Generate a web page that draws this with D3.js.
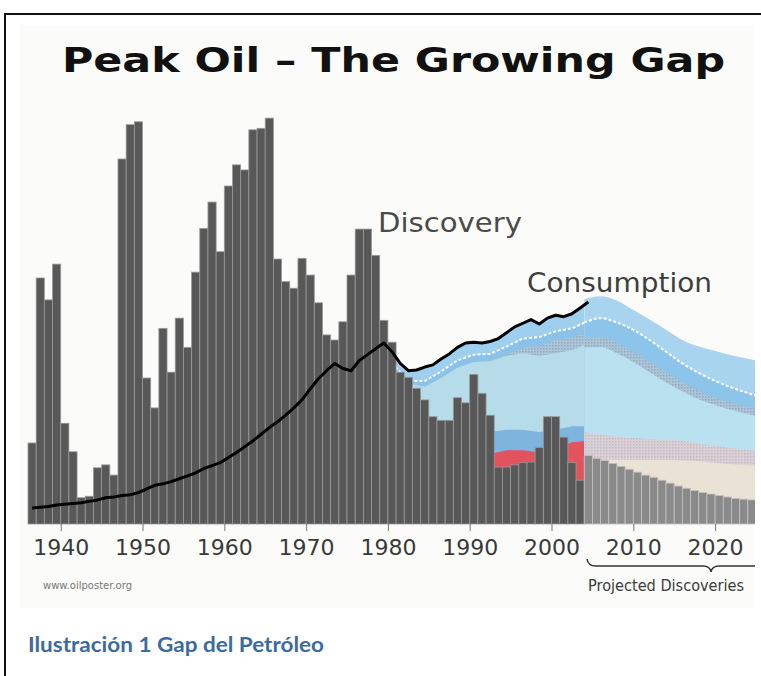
<!DOCTYPE html>
<html>
<head>
<meta charset="utf-8">
<script src="https://cdn.jsdelivr.net/npm/d3@7"></script>
<style>
	body{margin:0;background:#fff;}
</style>
</head>
<body>
<svg id="chart" width="761" height="676"></svg>
<script>
// discovery per year (Gb), 1936-2003 history, 2004-2024 projection
const histStart = 1936;
const histDiscovery = [
	11.1, 33.7, 30.7, 35.6, 13.8, 9.9, 3.6, 3.8, 7.7, 8.1,
	6.7, 50.0, 54.7, 55.1, 20.0, 15.9, 26.8, 20.8, 28.2, 24.2,
	34.5, 40.5, 44.1, 37.3, 46.3, 49.2, 48.5, 54.0, 54.2, 55.6,
	36.3, 33.2, 32.3, 36.4, 34.1, 30.3, 25.9, 25.2, 27.7, 34.1,
	40.4, 40.4, 36.8, 27.9, 24.9, 20.8, 20.1, 18.6, 17.0, 14.7,
	14.2, 14.2, 17.3, 16.6, 20.5, 17.9, 14.9, 7.8, 7.8, 8.1,
	8.4, 8.5, 10.5, 14.7, 14.7, 11.9, 8.4, 6.0
];
const projStart = 2004;
const projDiscovery = [
	9.4, 9.0, 8.7, 8.3, 7.9, 7.5, 7.1, 6.7, 6.4, 6.0,
	5.6, 5.2, 4.9, 4.6, 4.3, 4.1, 3.9, 3.7, 3.5, 3.4, 3.3
];
// consumption per year (Gb), 1936-2004
const consumption = [
	2.2, 2.3, 2.4, 2.6, 2.7, 2.8, 2.9, 3.1, 3.3, 3.6,
	3.7, 3.9, 4.0, 4.3, 4.8, 5.3, 5.5, 5.8, 6.2, 6.6,
	7.0, 7.6, 8.0, 8.4, 9.1, 9.8, 10.6, 11.4, 12.3, 13.2,
	14.0, 14.9, 15.9, 17.0, 18.5, 19.9, 21.0, 22.0, 21.3, 21.0,
	22.4, 23.2, 24.0, 24.8, 23.6, 22.0, 21.0, 21.1, 21.5, 21.8,
	22.6, 23.3, 24.2, 24.8, 24.9, 24.8, 25.0, 25.4, 26.2, 27.0,
	27.5, 28.0, 27.4, 28.2, 28.6, 28.4, 28.8, 29.6, 30.4
];

// gap layers before 2004 (top of each band)
const histYears = [1980, 1981, 1982, 1984, 1986, 1988, 1990, 1992, 1994, 1996, 1998, 2000, 2002, 2004];
const histWhite = [22.0, 20.8, 19.6, 19.6, 20.9, 22.4, 23.2, 23.3, 24.3, 25.4, 25.6, 26.4, 26.8, 27.8];
const histGray  = [21.5, 20.5, 19.2, 18.8, 20.0, 21.4, 22.2, 22.3, 23.2, 24.2, 24.4, 25.2, 25.6, 26.4];
const histLight = [21.5, 20.5, 19.2, 18.8, 20.0, 21.4, 22.2, 22.3, 23.0, 23.4, 23.0, 23.4, 23.8, 24.8];
const histBlue  = [12.0, 12.0, 12.0, 12.0, 12.0, 12.0, 12.0, 12.6, 12.9, 12.9, 12.6, 12.9, 13.4, 13.4];
const histRed   = [9.0, 9.0, 9.0, 9.0, 9.0, 9.0, 9.0, 9.6, 10.1, 10.1, 9.8, 10.2, 11.2, 11.4];

// projected layers (top of each band)
const projYears = [2004, 2006, 2008, 2010, 2012, 2014, 2016, 2018, 2020, 2022, 2025];
const projTop   = [30.8, 31.2, 30.6, 29.3, 28.0, 26.6, 25.2, 24.3, 23.7, 23.1, 22.4];
const projWhite = [27.6, 28.2, 27.6, 26.6, 25.2, 23.6, 22.0, 20.7, 19.6, 18.7, 17.6];
const projGray  = [25.6, 25.6, 24.8, 23.6, 22.2, 20.8, 19.4, 18.2, 17.3, 16.6, 15.9];
const projLight = [24.2, 24.2, 23.4, 22.2, 20.8, 19.4, 18.2, 17.1, 16.3, 15.6, 14.8];
const projPink  = [12.6, 12.2, 12.0, 11.8, 11.6, 11.5, 11.4, 11.0, 10.7, 10.4, 10.0];
const projBeige = [8.8, 8.8, 8.8, 8.8, 8.8, 8.8, 8.7, 8.6, 8.4, 8.2, 8.0];

const tickYears = [1940, 1950, 1960, 1970, 1980, 1990, 2000, 2010, 2020];

const svg = d3.select('#chart');
const x = d3.scaleLinear().domain([1936, 2025]).range([28, 756]);
const y = d3.scaleLinear().domain([0, 60]).range([524, 86]);

const font = '"DejaVu Sans", sans-serif';

// frame
svg.append('path')
	.attr('d', 'M5,676V14H761')
	.attr('fill', 'none')
	.attr('stroke', '#111')
	.attr('stroke-width', 2);

svg.append('rect')
	.attr('x', 20).attr('y', 25)
	.attr('width', 735).attr('height', 583)
	.attr('fill', '#fbfcf9');

let defs = svg.append('defs');
defs.append('clipPath').attr('id', 'plotClip')
	.append('rect').attr('x', 20).attr('y', 25).attr('width', 735).attr('height', 583);
defs.append('clipPath').attr('id', 'histClip')
	.append('rect').attr('x', x(1980)).attr('y', 25).attr('width', x(2004) - x(1980)).attr('height', 500);
defs.append('clipPath').attr('id', 'projClip')
	.append('rect').attr('x', x(2004)).attr('y', 25).attr('width', 755 - x(2004)).attr('height', 500);

function dotPattern(id, base, dot){
	let p = defs.append('pattern').attr('id', id)
		.attr('width', 3).attr('height', 3).attr('patternUnits', 'userSpaceOnUse');
	p.append('rect').attr('width', 3).attr('height', 3).attr('fill', base);
	p.append('rect').attr('width', 1.5).attr('height', 1.5).attr('fill', dot);
}
dotPattern('dotGray', '#a9c6dc', '#9aa6b2');
dotPattern('dotPink', '#d8d2d8', '#c8b8bd');

function pts(years, vals){
	return years.map((yr, i) => ({year: yr, v: vals[i]}));
}

let plot = svg.append('g').attr('clip-path', 'url(#plotClip)');

// history gap
let histArea = d3.area()
	.x(d => x(d.year + 0.5)).y0(y(0)).y1(d => y(d.v))
	.curve(d3.curveLinear);
let hg = plot.append('g').attr('clip-path', 'url(#histClip)');
let consData = consumption.map((v, i) => ({year: histStart + i, v: v})).filter(d => d.year >= 1980);
hg.append('path').attr('d', histArea(consData)).attr('fill', '#9fcfee');
hg.append('path').attr('d', histArea(pts(histYears, histWhite))).attr('fill', '#8ac2e8');
hg.append('path').attr('d', histArea(pts(histYears, histGray))).attr('fill', 'url(#dotGray)');
hg.append('path').attr('d', histArea(pts(histYears, histLight))).attr('fill', '#b6dce9');
hg.append('path').attr('d', histArea(pts(histYears, histBlue))).attr('fill', '#7db5df');
hg.append('path').attr('d', histArea(pts(histYears, histRed))).attr('fill', '#e2535d');
hg.append('path')
	.attr('d', d3.line().x(d => x(d.year + 0.5)).y(d => y(d.v))(pts(histYears, histWhite)))
	.attr('fill', 'none').attr('stroke', '#fff').attr('stroke-width', 2).attr('stroke-dasharray', '3,2');

// projected gap
let projArea = d3.area()
	.x(d => x(d.year)).y0(y(0)).y1(d => y(d.v))
	.curve(d3.curveMonotoneX);
let pg = plot.append('g').attr('clip-path', 'url(#projClip)');
pg.append('path').attr('d', projArea(pts(projYears, projTop))).attr('fill', '#a9d4f0');
pg.append('path').attr('d', projArea(pts(projYears, projWhite))).attr('fill', '#8dc4e9');
pg.append('path').attr('d', projArea(pts(projYears, projGray))).attr('fill', 'url(#dotGray)');
pg.append('path').attr('d', projArea(pts(projYears, projLight))).attr('fill', '#b9e1f0');
pg.append('path').attr('d', projArea(pts(projYears, projPink))).attr('fill', 'url(#dotPink)');
pg.append('path').attr('d', projArea(pts(projYears, projBeige))).attr('fill', '#ebe2d6');
pg.append('path')
	.attr('d', d3.line().x(d => x(d.year)).y(d => y(d.v)).curve(d3.curveMonotoneX)(pts(projYears, projWhite)))
	.attr('fill', 'none').attr('stroke', '#fff').attr('stroke-width', 2).attr('stroke-dasharray', '3,2');

// discovery bars
plot.append('g').selectAll('rect')
	.data(histDiscovery.map((v, i) => ({year: histStart + i, v: v})))
	.join('rect')
	.attr('x', d => x(d.year))
	.attr('y', d => y(d.v))
	.attr('width', d => x(d.year + 1) - x(d.year))
	.attr('height', d => y(0) - y(d.v))
	.attr('fill', '#585858')
	.attr('stroke', '#9a9a9a')
	.attr('stroke-width', 0.8);

plot.append('g').selectAll('rect')
	.data(projDiscovery.map((v, i) => ({year: projStart + i, v: v})))
	.join('rect')
	.attr('x', d => x(d.year))
	.attr('y', d => y(d.v))
	.attr('width', d => x(d.year + 1) - x(d.year))
	.attr('height', d => y(0) - y(d.v))
	.attr('fill', '#8a8a8a')
	.attr('stroke', '#c4c4c4')
	.attr('stroke-width', 0.8);

// consumption line
plot.append('path')
	.attr('d', d3.line().x(d => x(d.year + 0.5)).y(d => y(d.v))
		(consumption.map((v, i) => ({year: histStart + i, v: v}))))
	.attr('fill', 'none')
	.attr('stroke', '#000')
	.attr('stroke-width', 3)
	.attr('stroke-linejoin', 'round');

// x axis
let axis = svg.append('g')
	.attr('transform', `translate(0,${y(0)})`)
	.call(d3.axisBottom(x).tickValues(tickYears).tickFormat(d3.format('d')).tickSize(7).tickPadding(8));
axis.select('.domain').remove();
axis.selectAll('line').attr('stroke', '#777');
axis.selectAll('text')
	.attr('fill', '#3a3a3a')
	.attr('font-family', font)
	.attr('font-size', 22);

// title and labels
svg.append('text')
	.attr('x', 62).attr('y', 72)
	.attr('font-family', font).attr('font-weight', 'bold')
	.attr('font-size', 34)
	.attr('textLength', 663).attr('lengthAdjust', 'spacingAndGlyphs')
	.attr('fill', '#111')
	.text('Peak Oil – The Growing Gap');

svg.append('text')
	.attr('x', 378).attr('y', 232)
	.attr('font-family', font).attr('font-size', 27)
	.attr('textLength', 144).attr('lengthAdjust', 'spacingAndGlyphs')
	.attr('fill', '#4a4a4a')
	.text('Discovery');

svg.append('text')
	.attr('x', 527).attr('y', 292)
	.attr('font-family', font).attr('font-size', 27)
	.attr('textLength', 185).attr('lengthAdjust', 'spacingAndGlyphs')
	.attr('fill', '#3e3e3e')
	.text('Consumption');

// projected bracket
let brace = d3.path();
brace.moveTo(587, 559);
brace.quadraticCurveTo(588, 566, 596, 566);
brace.lineTo(703, 566);
brace.quadraticCurveTo(710, 566, 711, 572);
brace.quadraticCurveTo(712, 566, 719, 566);
brace.lineTo(760, 566);
svg.append('path')
	.attr('d', brace.toString())
	.attr('fill', 'none')
	.attr('stroke', '#333')
	.attr('stroke-width', 1.5)
	.attr('clip-path', 'url(#plotClip)');

svg.append('text')
	.attr('x', 588).attr('y', 591)
	.attr('font-family', font).attr('font-size', 16)
	.attr('textLength', 156).attr('lengthAdjust', 'spacingAndGlyphs')
	.attr('fill', '#3a3a3a')
	.text('Projected Discoveries');

svg.append('text')
	.attr('x', 132).attr('y', 589)
	.attr('text-anchor', 'end')
	.attr('font-family', font).attr('font-size', 10)
	.attr('fill', '#777')
	.text('www.oilposter.org');

// caption
svg.append('text')
	.attr('x', 28).attr('y', 652)
	.attr('font-family', 'Lato, "Open Sans", sans-serif')
	.attr('font-weight', 'bold')
	.attr('font-size', 20)
	.attr('textLength', 296).attr('lengthAdjust', 'spacingAndGlyphs')
	.attr('fill', '#3c6ba0')
	.text('Ilustración 1 Gap del Petróleo');
</script>
</body>
</html>
